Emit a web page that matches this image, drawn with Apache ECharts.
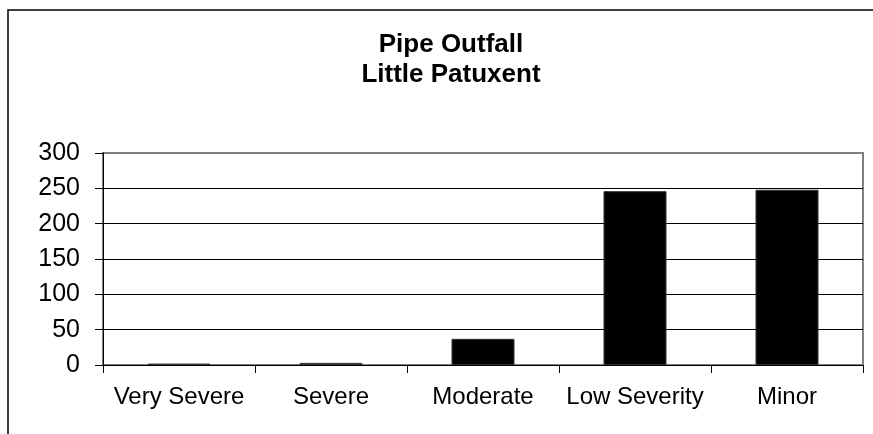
<!DOCTYPE html>
<html>
<head>
<meta charset="utf-8">
<script src="https://cdn.jsdelivr.net/npm/echarts@6/dist/echarts.min.js"></script>
<style>
  html, body { margin: 0; padding: 0; background: #fff; }
  #chart { width: 873px; height: 434px; }
</style>
</head>
<body>
<div id="chart"></div>
<script>
// severity categories and counts
const categories = ['Very Severe', 'Severe', 'Moderate', 'Low Severity', 'Minor'];
const counts = [2, 3, 37, 246, 248];
const titleLines = ['Pipe Outfall', 'Little Patuxent'];
const yMin = 0;
const yMax = 300;
const yStep = 50;

var chartDom = document.getElementById('chart');
var myChart = echarts.init(chartDom);
var option;

const fontFamily = '"Liberation Sans", Arial, sans-serif';

option = {
    animation: false,
    backgroundColor: '#fff',
    title: {
        text: titleLines.join('\n'),
        left: 446,
        top: 25,
        textAlign: 'center',
        textStyle: {
            fontFamily: fontFamily,
            fontSize: 26,
            fontWeight: 'bold',
            lineHeight: 30,
            color: '#000'
        }
    },
    graphic: [
        {
            // outer chart frame, cut off at right and bottom
            type: 'rect',
            silent: true,
            shape: { x: 8, y: 10, width: 900, height: 500 },
            style: { fill: 'none', stroke: '#000', lineWidth: 1.5 }
        }
    ],
    grid: {
        left: 103,
        right: 10,
        top: 153,
        bottom: 69,
        show: true,
        backgroundColor: '#fff',
        borderColor: '#808080',
        borderWidth: 2
    },
    xAxis: {
        type: 'category',
        data: categories,
        axisLine: { lineStyle: { color: '#000', width: 1 } },
        axisTick: { show: true, alignWithLabel: false, length: 8, lineStyle: { color: '#000' } },
        axisLabel: {
            margin: 20,
            fontFamily: fontFamily,
            fontSize: 24,
            color: '#000',
            interval: 0
        },
        splitLine: { show: false }
    },
    yAxis: {
        type: 'value',
        min: yMin,
        max: yMax,
        interval: yStep,
        axisLine: { show: true, lineStyle: { color: '#000', width: 1 } },
        axisTick: { show: true, length: 8, lineStyle: { color: '#000' } },
        axisLabel: {
            margin: 23,
            fontFamily: fontFamily,
            fontSize: 25,
            color: '#000'
        },
        splitLine: {
            show: true,
            lineStyle: {
                // top line is part of the gray plot border
                color: ['#000', '#000', '#000', '#000', '#000', '#000', '#808080'],
                width: 1
            }
        }
    },
    series: [
        {
            type: 'bar',
            data: counts,
            barWidth: 63,
            itemStyle: {
                color: '#000',
                borderColor: '#333',
                borderWidth: 1
            }
        }
    ]
};

option && myChart.setOption(option);
</script>
</body>
</html>
